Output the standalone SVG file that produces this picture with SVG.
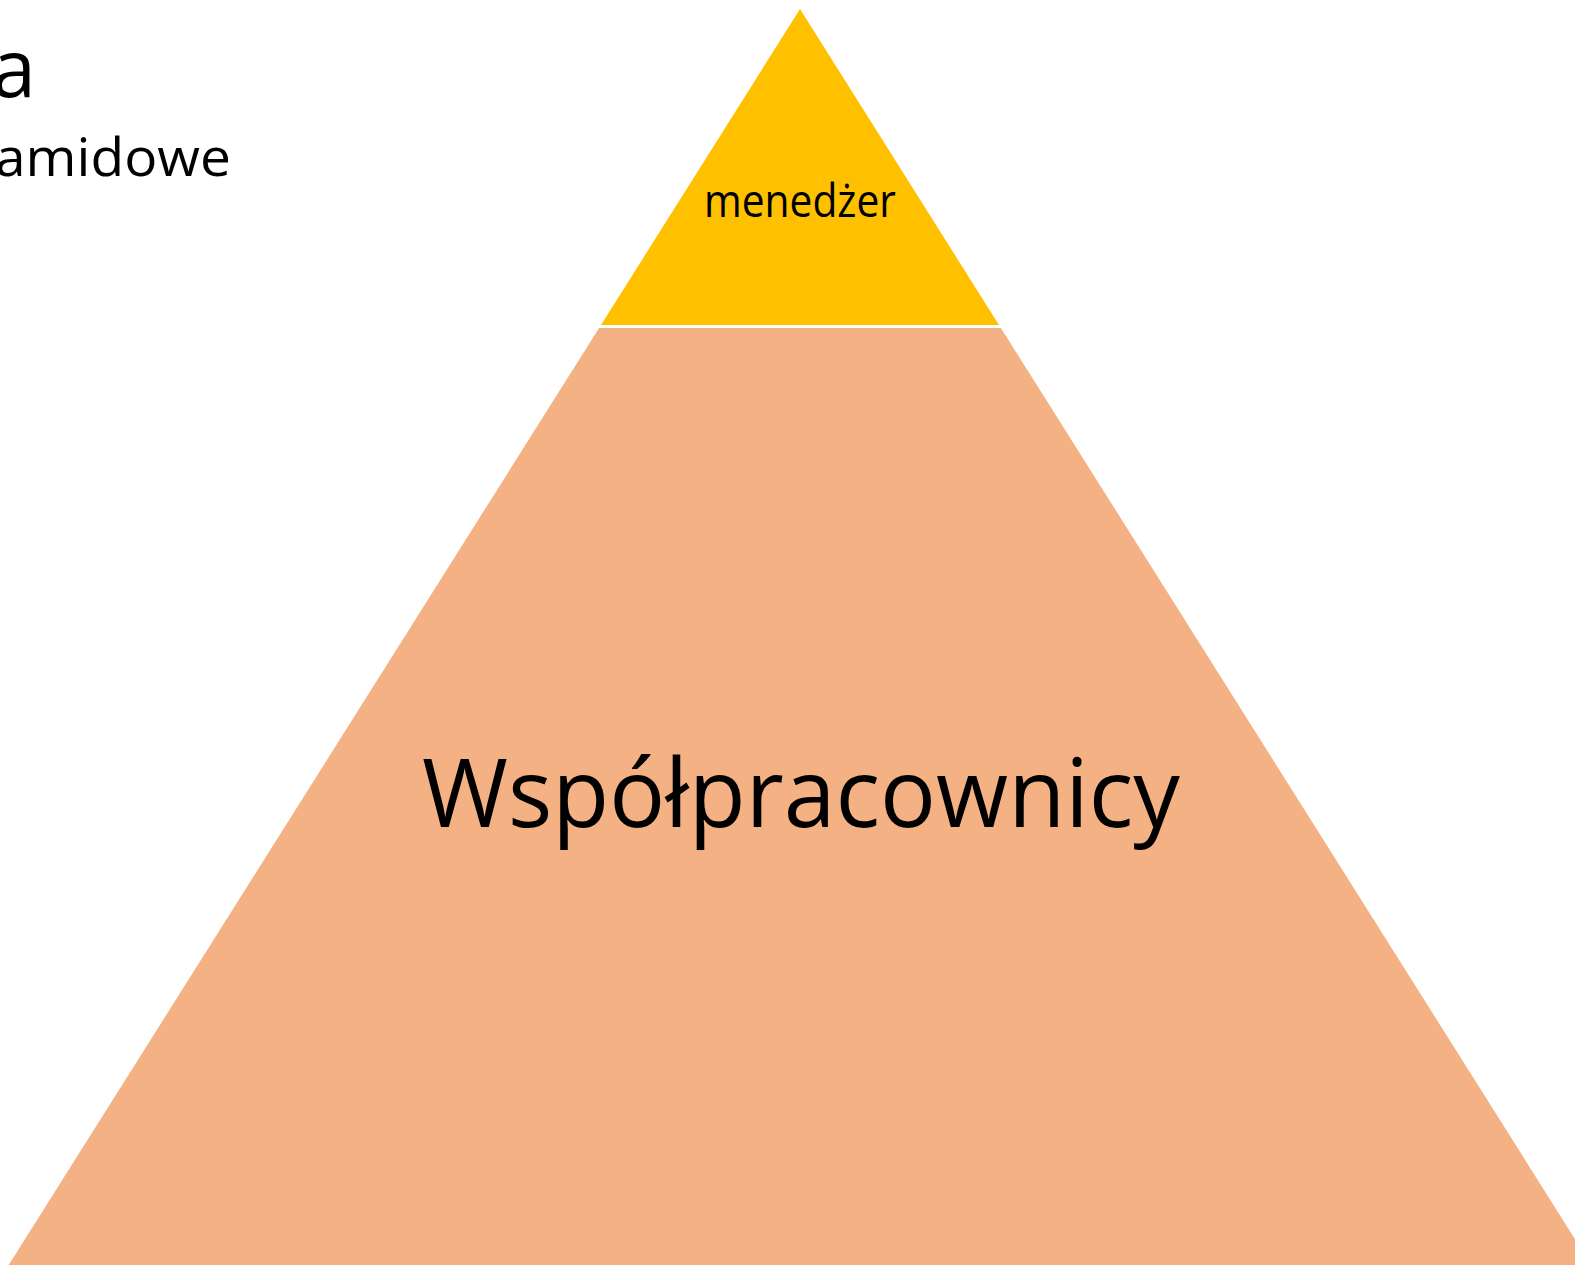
<svg xmlns="http://www.w3.org/2000/svg" width="1575" height="1265" viewBox="0 0 1575 1265">
<style>
.t{font-family:"Open Sans","Noto Sans","Liberation Sans",sans-serif;fill:#000}
</style>
<rect width="1575" height="1265" fill="#fff"/>
<g id="title">
<text class="t" x="36" y="97" font-size="80" text-anchor="end">a</text>
<text class="t" x="231" y="176" font-size="53" text-anchor="end" textLength="236" lengthAdjust="spacingAndGlyphs">amidowe</text>
</g>
<g id="level-bottom">
<polygon points="599.1,328 1000.9,328 1591.3,1265 8.7,1265" fill="#F4B183"/>
<text class="t" x="801" y="827" font-size="95" text-anchor="middle" textLength="758" lengthAdjust="spacingAndGlyphs">Współpracownicy</text>
</g>
<g id="level-top">
<polygon points="800,9 999,325 601,325" fill="#FFC000"/>
<text class="t" x="800" y="217" font-size="45" text-anchor="middle" textLength="192" lengthAdjust="spacingAndGlyphs">menedżer</text>
</g>
<g id="connectors"/>
</svg>
